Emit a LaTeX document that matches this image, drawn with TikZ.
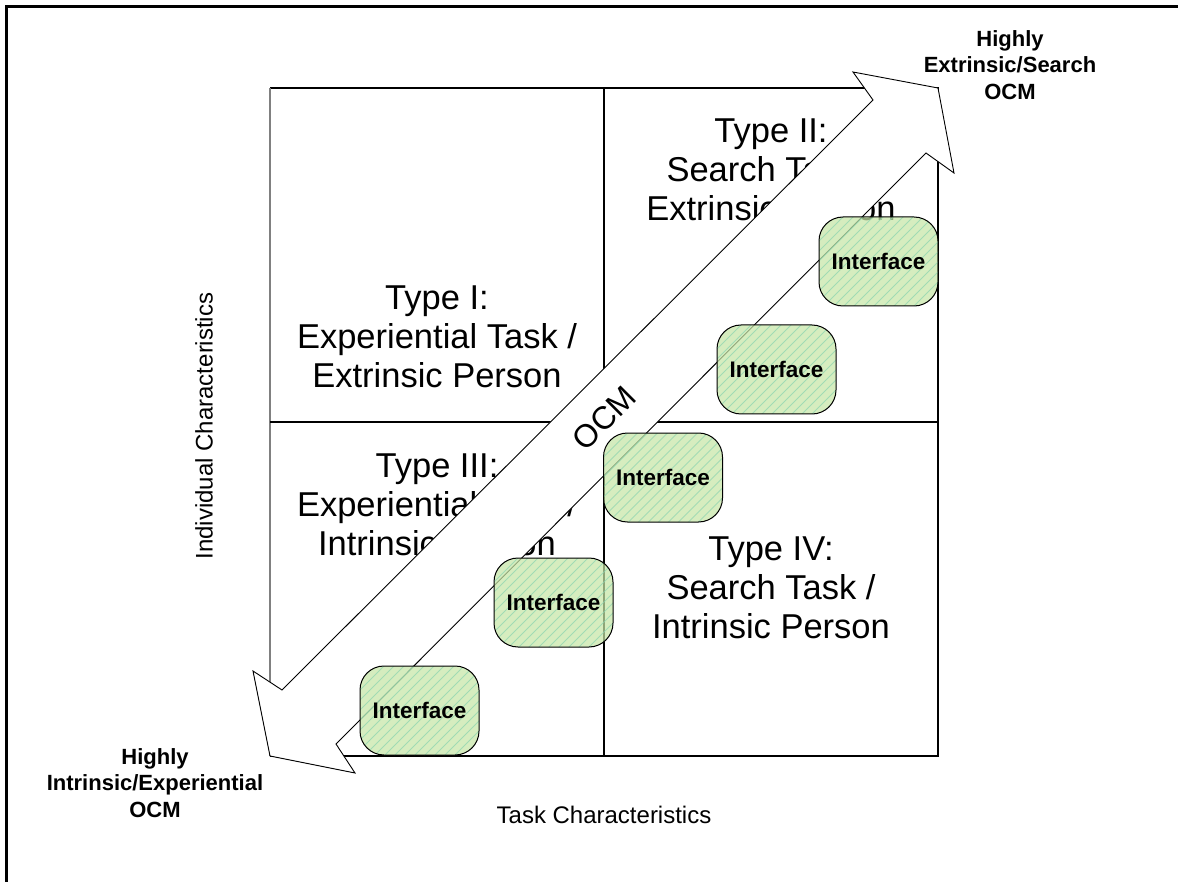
\documentclass[tikz,border=0pt]{standalone}
\usepackage{fontspec}
\setmainfont{Liberation Sans}
\usetikzlibrary{calc}
\definecolor{ifill}{RGB}{198,230,166}
\definecolor{ihatch}{RGB}{140,212,176}
\definecolor{edgegray}{RGB}{128,128,128}
\begin{document}
\begin{tikzpicture}[x=1pt,y=-1pt,
  gridline/.style={line width=1.2pt, draw=black},
  quadtext/.style={align=center, inner sep=0pt, font=\fontsize{34.5}{39}\selectfont},
  sidetext/.style={align=center, inner sep=0pt, font=\fontsize{24}{28}\selectfont},
  endtext/.style={align=center, inner sep=0pt, font=\fontsize{22}{26.5}\selectfont\bfseries},
  iface/.style={rounded corners=24pt, minimum width=119pt, minimum height=89pt,
    draw=black, line width=1pt, fill=ifill, fill opacity=0.72, text opacity=1,
    font=\fontsize{22.5}{26}\selectfont\bfseries,
    path picture={
      \foreach \k in {-14,...,14}
        \draw[ihatch, line width=0.9pt, draw opacity=0.7]
          ($(path picture bounding box.center)+(\k*10pt-80pt,-80pt)$) -- ++(160pt,160pt);
    }},
  bigarrow/.style={draw=black, line width=0.9pt, fill=white}]
  \useasboundingbox (0,0) rectangle (1178,882);

  % outer frame (top and left edges)
  \draw[line width=3pt] (6,882) -- (6,7) -- (1178,7);

  % quadrant grid
  \draw[gridline] (270,88) -- (938,88) -- (938,756) -- (270,756);
  \draw[line width=2.5pt, edgegray] (270,88) -- (270,756);
  \draw[gridline] (604,88) -- (604,756);
  \draw[gridline] (270,422) -- (938,422);

  % quadrant labels
  \node[quadtext] (q1) at (437,337) {Type I:\\Experiential Task /\\Extrinsic Person};
  \node[quadtext] (q2) at (771,170) {Type II:\\Search Task /\\Extrinsic Person};
  \node[quadtext] (q3) at (437,505) {Type III:\\Experiential Task /\\Intrinsic Person};
  \node[quadtext] (q4) at (771,588) {Type IV:\\Search Task /\\Intrinsic Person};

  % axis labels
  \node[sidetext, rotate=90] (ylab) at (204,426) {Individual Characteristics};
  \node[sidetext] (xlab) at (604,815) {Task Characteristics};

  % double-headed OCM arrow
  \draw[bigarrow] (282,690) -- (873,100) -- (853,72) -- (938,88) -- (954,173)
    -- (926,153) -- (336,744) -- (355,773) -- (270,756) -- (253,671) -- cycle;
  \node[rotate=45, inner sep=0pt, font=\fontsize{32}{36}\selectfont] (ocm) at (604,418) {OCM};

  % interface boxes along the arrow
  \node[iface] (i1) at (419.5,710.5) {Interface};
  \node[iface] (i2) at (553.5,602.5) {Interface};
  \node[iface] (i3) at (663,477.5) {Interface};
  \node[iface] (i4) at (776.5,369.5) {Interface};
  \node[iface] (i5) at (878.5,261.5) {Interface};

  % arrow end labels
  \node[endtext] (hi) at (1010,65) {Highly\\Extrinsic/Search\\OCM};
  \node[endtext] (lo) at (155,783) {Highly\\Intrinsic/Experiential\\OCM};
\end{tikzpicture}
\end{document}
